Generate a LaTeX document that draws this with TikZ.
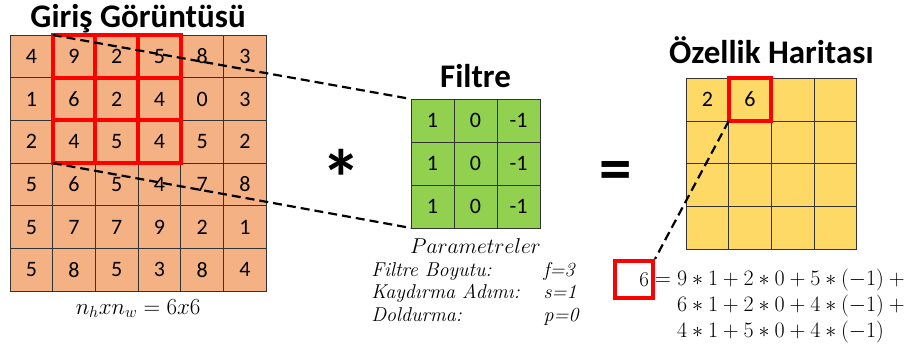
\documentclass[tikz,border=0pt]{standalone}
\usepackage{fix-cm}
\usepackage{fontspec}
\usepackage{xcolor}
\usepackage{tikz}
\usetikzlibrary{positioning}
\newfontfamily\calibri{Carlito}
\definecolor{inorange}{HTML}{F4B183}
\definecolor{filtgreen}{HTML}{92D050}
\definecolor{mapyellow}{HTML}{FFD966}
\tikzstyle{cell} = [rectangle, draw=black!80, line width=0.7pt, minimum size=42.7pt,
    inner sep=0pt, outer sep=0pt, font=\calibri\fontsize{22}{26}\selectfont]
\tikzstyle{incell} = [cell, fill=inorange]
\tikzstyle{filtcell} = [cell, fill=filtgreen, minimum size=43pt]
\tikzstyle{mapcell} = [cell, fill=mapyellow]
\tikzstyle{title} = [anchor=base, font=\calibri\bfseries\fontsize{33}{38}\selectfont]
\tikzstyle{redbox} = [draw=red, line width=4pt]
\tikzstyle{resbox} = [draw=red, line width=4pt, minimum height=37pt, inner xsep=4pt,
    text width=30pt, align=right, font=\fontsize{21}{26}\selectfont]
\tikzstyle{guide} = [draw, line width=2.2pt, dash pattern=on 9pt off 5pt]

\begin{document}
\begin{tikzpicture}[x=1pt, y=-1pt]
  \useasboundingbox (0,0) rectangle (913,345);
  % Place grids
  \foreach \row [count=\r from 0] in {{4,9,2,5,8,3},{1,6,2,4,0,3},{2,4,5,4,5,2},
      {5,6,5,4,7,8},{5,7,7,9,2,1},{5,8,5,3,8,4}}
    \foreach \v [count=\c from 0] in \row
      \node [incell] (in-\r-\c) at (31.35+42.7*\c, 56.35+42.7*\r) {\v};
  \foreach \row [count=\r from 0] in {{1,0,-1},{1,0,-1},{1,0,-1}}
    \foreach \v [count=\c from 0] in \row
      \node [filtcell] (f-\r-\c) at (432.5+43*\c, 120.5+43*\r) {\v};
  \foreach \row [count=\r from 0] in {{2,6,{},{}},{{},{},{},{}},{{},{},{},{}},{{},{},{},{}}}
    \foreach \v [count=\c from 0] in \row
      \node [mapcell] (fm-\r-\c) at (707.35+42.7*\c, 99.65+42.7*\r) {\v};
  % Titles and symbols
  \node [title, yshift=7pt] (intitle) at (in-0-2.north east) {Giriş Görüntüsü};
  \node [title, yshift=11pt] (ftitle) at (f-0-1.north) {Filtre};
  \node [title, yshift=15pt] (fmtitle) at (fm-0-1.north east) {Özellik Haritası};
  \node [anchor=base, yshift=-23pt, font=\fontsize{23}{27}\selectfont] (insize)
    at (in-5-2.south east) {$n_hxn_w=6x6$};
  \node [inner sep=0pt, font=\calibri\bfseries\fontsize{80}{80}\selectfont] (conv)
    at (341.7, 178) {*};
  \node [inner sep=0pt, font=\calibri\bfseries\fontsize{65}{65}\selectfont] (equals)
    at (616, 176) {=};
  \node [below=10pt of f-2-1, inner sep=0pt, font=\fontsize{20}{22.5}\selectfont] (params) {%
    \begin{tabular}{@{}l@{\hspace{24pt}}l@{}}
      \multicolumn{2}{c}{\fontsize{21.5}{22.5}\selectfont$Parametreler$}\\
      \textit{Filtre Boyutu:} & \textit{f=3}\\
      \textit{Kaydırma Adımı:} & \textit{s=1}\\
      \textit{Doldurma:} & \textit{p=0}
    \end{tabular}};
  % Highlight the window
  \foreach \r in {0,1,2}
    \foreach \c in {1,2,3}
      \draw [redbox] (in-\r-\c.north west) rectangle (in-\r-\c.south east);
  \draw [redbox] (fm-0-1.north west) rectangle (fm-0-1.south east);
  \node [resbox] (res) at (634, 279.5) {$6$};
  \node [anchor=base west, yshift=-5.5pt, inner sep=0pt, font=\fontsize{22}{26}\selectfont] (eq)
    at (res.east) {$\begin{array}[t]{@{}l@{}l@{}}
      ={} & 9\ast1+2\ast0+5\ast(-1)+{}\\
          & 6\ast1+2\ast0+4\ast(-1)+{}\\
          & 4\ast1+5\ast0+4\ast(-1)
    \end{array}$};
  % Draw guide lines
  \path [guide] (in-0-1.north west) -- (f-0-0.north west);
  \path [guide] (in-2-1.south west) -- (f-2-0.south west);
  \path [guide] (fm-0-1.south west) -- (res.north east);
\end{tikzpicture}
\end{document}
